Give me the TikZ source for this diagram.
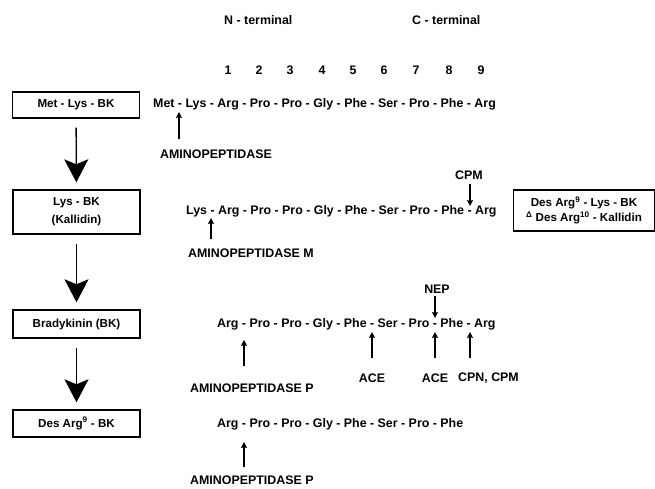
\documentclass[tikz,border=0pt]{standalone}
\usepackage{fontspec}
\setmainfont{Liberation Sans}
\usetikzlibrary{arrows.meta,positioning,calc}

\begin{document}
\begin{tikzpicture}[
    x=1pt, y=-1pt,
    font=\fontsize{12.4}{13}\selectfont\bfseries,
    box/.style={draw, line width=1.4pt, align=center, inner sep=0pt, minimum width=127pt, font=\fontsize{11.6}{18}\selectfont\bfseries},
    seq/.style={anchor=west, inner sep=0pt},
    lab/.style={inner sep=0pt},
    conv/.style={-{Stealth[length=23pt, width=24pt, inset=5pt]}, line width=1.3pt, shorten <=9pt, shorten >=7pt},
    cut/.style={-{Stealth[length=6pt, width=6pt, inset=1pt]}, line width=1.2pt}
  ]
    \useasboundingbox (0,0) rectangle (655,489);

    % column header
    \node[seq] (nterm) at (224,20) {N - terminal};
    \node[seq] (cterm) at (412,20) {C - terminal};
    \foreach \n/\x in {1/228, 2/259, 3/290, 4/322, 5/353, 6/384, 7/416, 8/449, 9/481}
      \node[lab] (num\n) at (\x,70) {\n};

    % peptides
    \node[box, minimum height=26pt] (metbk) at (76,105) {Met - Lys - BK};
    \node[box, minimum height=44pt] (kal) at (76.5,212) {Lys - BK\\(Kallidin)};
    \node[box, minimum height=28pt] (bk) at (76.5,324) {Bradykinin (BK)};
    \node[box, minimum height=27pt] (desbk) at (76.5,423.5) {Des Arg\textsuperscript{9} - BK};
    \node[box, minimum width=141pt, minimum height=41pt, font=\fontsize{11.6}{15}\selectfont\bfseries] (deskal) at (584,210.5)
      {Des Arg\textsuperscript{9} - Lys - BK\\\textsuperscript{Δ} Des Arg\textsuperscript{10} - Kallidin};

    \draw[conv] (metbk) -- (kal);
    \draw[conv] (kal) -- (bk);
    \draw[conv] (bk) -- (desbk);

    % sequences
    \node[seq] (seq1) at (153,104) {Met - Lys - Arg - Pro - Pro - Gly - Phe - Ser - Pro - Phe - Arg};
    \node[seq] (seq2) at (186,211) {Lys - Arg - Pro - Pro - Gly - Phe - Ser - Pro - Phe - Arg};
    \node[seq] (seq3) at (217,324) {Arg - Pro - Pro - Gly - Phe - Ser - Pro - Phe - Arg};
    \node[seq] (seq4) at (217,424) {Arg - Pro - Pro - Gly - Phe - Ser - Pro - Phe};

    % enzymes
    \node[seq] (ap) at (160,154) {AMINOPEPTIDASE};
    \node[seq] (apm) at (188,253) {AMINOPEPTIDASE M};
    \node[seq] (app1) at (190,388) {AMINOPEPTIDASE P};
    \node[seq] (app2) at (190,480) {AMINOPEPTIDASE P};
    \node[lab] (cpm) at (469,175) {CPM};
    \node[lab] (nep) at (437,289) {NEP};
    \node[lab] (ace1) at (372,378) {ACE};
    \node[lab] (ace2) at (435,378) {ACE};
    \node[seq] (cpn) at (458,378) {CPN, CPM};

    % cleavage sites
    \foreach \nm/\x/\ya/\yb in {ap/179/139/112, apm/211/239/218, cpm/470/184/206, nep/435/296/318,
        ace1/372/358/332, ace2/435/358/332, cpn/470/358/332, app1/244/366/340, app2/244/467/442} {
      \coordinate (\nm-t) at (\x,\ya);
      \coordinate (\nm-h) at (\x,\yb);
      \draw[cut] (\nm-t) -- (\nm-h);
    }
  \end{tikzpicture}
\end{document}
